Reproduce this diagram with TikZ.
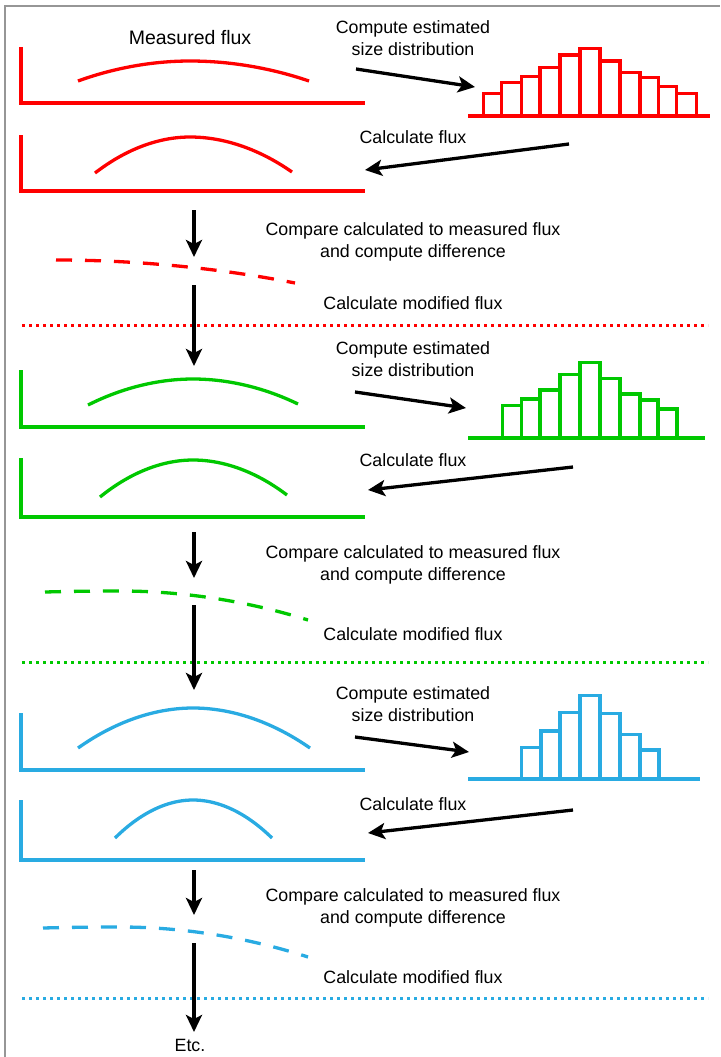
\documentclass[tikz,border=0pt]{standalone}
\usepackage{fontspec}
\setmainfont{Liberation Sans}
\usetikzlibrary{arrows.meta}
\definecolor{cred}{RGB}{255,0,0}
\definecolor{cgreen}{RGB}{0,200,0}
\definecolor{cblue}{RGB}{41,171,226}
\definecolor{framegray}{RGB}{150,150,150}
\begin{document}
\begin{tikzpicture}[x=1pt,y=-1pt,
 lbl/.style={font=\fontsize{17.8}{21.5}\selectfont, align=center, inner sep=0pt},
 axis/.style={line width=3.3pt, line join=miter},
 curve/.style={line width=3.3pt},
 dcurve/.style={line width=3.3pt, dash pattern=on 16pt off 13pt},
 dotline/.style={line width=3pt, dash pattern=on 3pt off 4pt},
 hist/.style={line width=3.3pt},
 arr/.style={line width=3.3pt, -{Stealth[length=17pt,width=16pt,inset=4pt]}},
]
\useasboundingbox (0,0) rectangle (720,1057);
\draw[framegray, line width=2pt] (4.5,1057) -- (4.5,6) -- (720,6);

% ---------- red panel ----------
\node[lbl, font=\fontsize{19.5}{23}\selectfont] (meas) at (190,38) {Measured flux};
\draw[axis,cred] (21,47) -- (21,103) -- (365,103);
\draw[curve,cred] (78,81) parabola bend (190,61) (309,81);
\node[lbl] (ce1) at (413,38) {Compute estimated\\size distribution};
\coordinate (ce1s) at (356,69); \coordinate (ce1e) at (475,87);
\draw[arr] (ce1s) -- (ce1e);
\foreach \a/\b/\t in {483.3/501.7/93.3, 501.7/521.7/82.7, 521.7/540/76.7, 540/560/67.3, 560/580/55, 580/600/48.3, 600/620/61, 620/640/72.3, 640/658.3/77.7, 658.3/676.7/86.7, 676.7/696.7/93.3}
  \draw[hist,cred] (\a,116) rectangle (\b,\t);
\draw[hist,cred] (468,116) -- (710,116);
\node[lbl] (cf1) at (413,137) {Calculate flux};
\coordinate (cf1s) at (569,144); \coordinate (cf1e) at (365,170);
\draw[arr] (cf1s) -- (cf1e);
\draw[axis,cred] (21,135) -- (21,191) -- (365,191);
\draw[curve,cred] (95,173) parabola bend (190,137) (292,172);
\coordinate (d1a) at (194,210); \coordinate (d1b) at (194,257);
\draw[arr] (d1a) -- (d1b);
\node[lbl] (cmp1) at (413,242) {Compare calculated to measured flux\\and compute difference};
\draw[dcurve,cred] (56,260) parabola (295,283);
\node[lbl] (cm1) at (413,303) {Calculate modified flux};
\draw[dotline,cred] (22,325) -- (708,325);
\coordinate (d2a) at (194,285); \coordinate (d2b) at (194,366);
\draw[arr] (d2a) -- (d2b);

% ---------- green panel ----------
\draw[axis,cgreen] (21,370) -- (21,427) -- (365,427);
\draw[curve,cgreen] (88,405) parabola bend (193,379) (298,404);
\node[lbl] (ce2) at (413,359) {Compute estimated\\size distribution};
\coordinate (ce2s) at (355,392); \coordinate (ce2e) at (466,408);
\draw[arr] (ce2s) -- (ce2e);
\foreach \a/\b/\t in {502.7/521.7/405.7, 521.7/540/399, 540/560/390, 560/580/374.3, 580/600/362.7, 600/620/378.3, 620/640/394, 640/658/400, 658/677/409}
  \draw[hist,cgreen] (\a,438) rectangle (\b,\t);
\draw[hist,cgreen] (468,438) -- (705,438);
\node[lbl] (cf2) at (413,460) {Calculate flux};
\coordinate (cf2s) at (573,467); \coordinate (cf2e) at (368,490);
\draw[arr] (cf2s) -- (cf2e);
\draw[axis,cgreen] (21,458) -- (21,517) -- (365,517);
\draw[curve,cgreen] (100,497) parabola bend (193,460) (287,495);
\coordinate (d3a) at (194,532); \coordinate (d3b) at (194,578);
\draw[arr] (d3a) -- (d3b);
\node[lbl] (cmp2) at (413,565) {Compare calculated to measured flux\\and compute difference};
\draw[dcurve,cgreen] (45,592) parabola bend (120,591) (308,620);
\node[lbl] (cm2) at (413,634) {Calculate modified flux};
\draw[dotline,cgreen] (22,662) -- (708,662);
\coordinate (d4a) at (194,605); \coordinate (d4b) at (194,690);
\draw[arr] (d4a) -- (d4b);

% ---------- blue panel ----------
\draw[axis,cblue] (21,713) -- (21,770) -- (365,770);
\draw[curve,cblue] (78,748) parabola bend (193,708) (310,748);
\node[lbl] (ce3) at (413,704) {Compute estimated\\size distribution};
\coordinate (ce3s) at (355,737); \coordinate (ce3e) at (469,752);
\draw[arr] (ce3s) -- (ce3e);
\foreach \a/\b/\t in {521.7/541/747.7, 541/560/731, 560/580/712.3, 580/600/695.7, 600/620/713.3, 620/640/734.3, 640/659/750}
  \draw[hist,cblue] (\a,779) rectangle (\b,\t);
\draw[hist,cblue] (468,779) -- (700,779);
\node[lbl] (cf3) at (413,804) {Calculate flux};
\coordinate (cf3s) at (573,810); \coordinate (cf3e) at (368,833);
\draw[arr] (cf3s) -- (cf3e);
\draw[axis,cblue] (21,800) -- (21,860) -- (365,860);
\draw[curve,cblue] (115,838) parabola bend (193,800) (272,838);
\coordinate (d5a) at (194,870); \coordinate (d5b) at (194,915);
\draw[arr] (d5a) -- (d5b);
\node[lbl] (cmp3) at (413,908) {Compare calculated to measured flux\\and compute difference};
\draw[dcurve,cblue] (43,928) parabola bend (120,927) (308,957);
\node[lbl] (cm3) at (413,977) {Calculate modified flux};
\draw[dotline,cblue] (22,998) -- (708,998);
\node[lbl] (etc) at (190,1045) {Etc.};
\coordinate (d6a) at (194,943); \coordinate (d6b) at (194,1032);
\draw[arr] (d6a) -- (d6b);
\end{tikzpicture}
\end{document}
